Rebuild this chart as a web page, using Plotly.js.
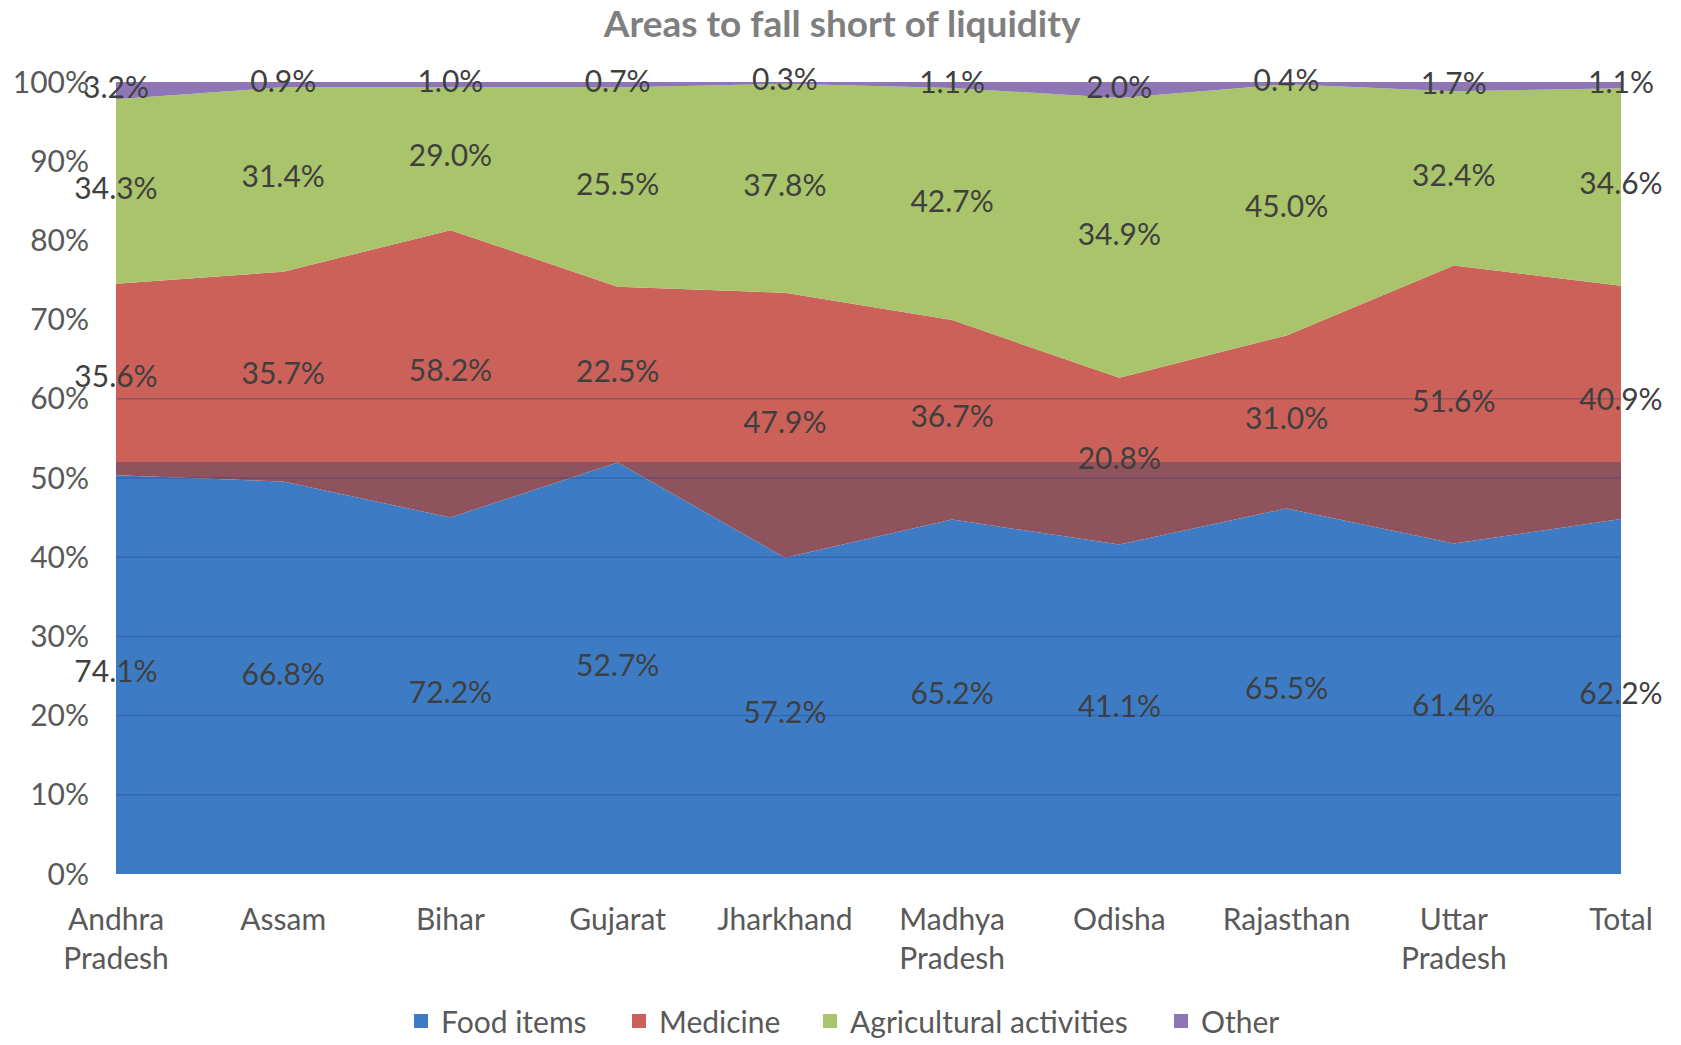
<!DOCTYPE html>
<html>
<head>
<meta charset="utf-8">
<script src="https://cdn.plot.ly/plotly-3.0.1.min.js"></script>
<style>html,body{margin:0;padding:0;background:#fff;}#chart{width:1681px;height:1045px;}</style>
</head>
<body>
<div id="chart"></div>
<script>
// ---- data ----
const categories = ['Andhra Pradesh','Assam','Bihar','Gujarat','Jharkhand','Madhya Pradesh','Odisha','Rajasthan','Uttar Pradesh','Total'];
const tickLabels = ['Andhra<br>Pradesh','Assam','Bihar','Gujarat','Jharkhand','Madhya<br>Pradesh','Odisha','Rajasthan','Uttar<br>Pradesh','Total'];
const foodItems    = [74.1, 66.8, 72.2, 52.7, 57.2, 65.2, 41.1, 65.5, 61.4, 62.2];
const medicine     = [35.6, 35.7, 58.2, 22.5, 47.9, 36.7, 20.8, 31.0, 51.6, 40.9];
const agricultural = [34.3, 31.4, 29.0, 25.5, 37.8, 42.7, 34.9, 45.0, 32.4, 34.6];
const other        = [3.2, 0.9, 1.0, 0.7, 0.3, 1.1, 2.0, 0.4, 1.7, 1.1];
const seriesNames  = ['Food items','Medicine','Agricultural activities','Other'];
const yTickVals    = [0,10,20,30,40,50,60,70,80,90,100];
const gridValues   = [10,20,30,40,50,60];

// ---- styling ----
const colors = ['#3d7cc4','#cb6158','#a9c46a','#8e76b6'];
const overlapColor = '#8f535d';
const FONT = 'Lato, Carlito, Calibri, "Open Sans", sans-serif';
const FS = 30;
const legendTextLeft = [443, 661, 852, 1203]; // px, where each legend label starts

const series = [foodItems, medicine, agricultural, other];
const totals = categories.map((_, i) => series.reduce((s, arr) => s + arr[i], 0));
const shares = series.map(arr => arr.map((v, i) => v / totals[i] * 100));
const maxFoodShare = Math.max(...shares[0]);

const traces = [];
series.forEach((arr, j) => {
  const t = {
    x: categories, y: arr, type: 'scatter', mode: 'none',
    stackgroup: 'one', fillcolor: colors[j], name: seriesNames[j],
    showlegend: false, hoverinfo: 'skip'
  };
  if (j === 0) t.groupnorm = 'percent';
  if (j === 1) {
    const f = maxFoodShare / 100;
    t.fillgradient = {
      type: 'vertical', start: 0, stop: 100,
      colorscale: [[0, overlapColor], [f, overlapColor], [f, colors[1]], [1, colors[1]]]
    };
  }
  traces.push(t);
});

// data labels, centred in each band
series.forEach((arr, j) => {
  const mids = categories.map((_, i) => {
    let below = 0;
    for (let k = 0; k < j; k++) below += shares[k][i];
    return below + shares[j][i] / 2;
  });
  traces.push({
    x: categories, y: mids, type: 'scatter', mode: 'text',
    text: arr.map(v => v.toFixed(1) + '%'),
    textposition: 'middle center',
    textfont: {family: FONT, size: FS, color: '#3f3f3f'},
    cliponaxis: false, showlegend: false, hoverinfo: 'skip'
  });
});

// legend entries, one legend each so they can be spaced like the reference
const legendKeys = ['legend', 'legend2', 'legend3', 'legend4'];
seriesNames.forEach((n, j) => {
  traces.push({
    x: [null], y: [null], type: 'scatter', mode: 'markers', name: n,
    marker: {symbol: 'square', size: 14, color: colors[j]},
    showlegend: true, hoverinfo: 'skip', legend: legendKeys[j]
  });
});

const shapes = gridValues.map(v => ({
  type: 'line', xref: 'paper', x0: 0, x1: 1, yref: 'y', y0: v, y1: v,
  layer: 'above', line: {color: 'rgba(35,55,140,0.32)', width: 1.5}
}));

const layout = {
  width: 1681, height: 1045,
  margin: {l: 116, r: 60, t: 82, b: 171},
  paper_bgcolor: '#ffffff', plot_bgcolor: '#ffffff',
  font: {family: FONT, size: FS, color: '#595959'},
  title: {
    text: 'Areas to fall short of liquidity',
    font: {family: FONT, size: 37, color: '#7f7f7f', weight: 'bold'},
    xref: 'container', x: 0.501, xanchor: 'center',
    yref: 'container', y: 1 - 24/1045, yanchor: 'middle'
  },
  xaxis: {
    type: 'category', range: [0, categories.length - 1],
    tickvals: categories, ticktext: tickLabels,
    showgrid: false, zeroline: false, showline: false, ticks: '',
    tickfont: {family: FONT, size: FS, color: '#595959'},
    ticklabelstandoff: 25, fixedrange: true, automargin: false
  },
  yaxis: {
    range: [0, 100], tickvals: yTickVals, ticktext: yTickVals.map(v => v + '%'),
    showgrid: false, zeroline: false, showline: false, ticks: '',
    tickfont: {family: FONT, size: FS, color: '#595959'},
    ticklabelstandoff: 26, fixedrange: true, automargin: false
  },
  shapes: shapes,
  showlegend: true
};
legendKeys.forEach((k, j) => {
  layout[k] = {
    orientation: 'h', xref: 'container', x: (legendTextLeft[j] - 42) / 1681, xanchor: 'left',
    yref: 'container', y: 1 - 1021/1045, yanchor: 'middle',
    font: {family: FONT, size: FS, color: '#595959'},
    bgcolor: 'rgba(0,0,0,0)', borderwidth: 0
  };
});

Plotly.newPlot('chart', traces, layout, {displayModeBar: false, staticPlot: true});
</script>
</body>
</html>
